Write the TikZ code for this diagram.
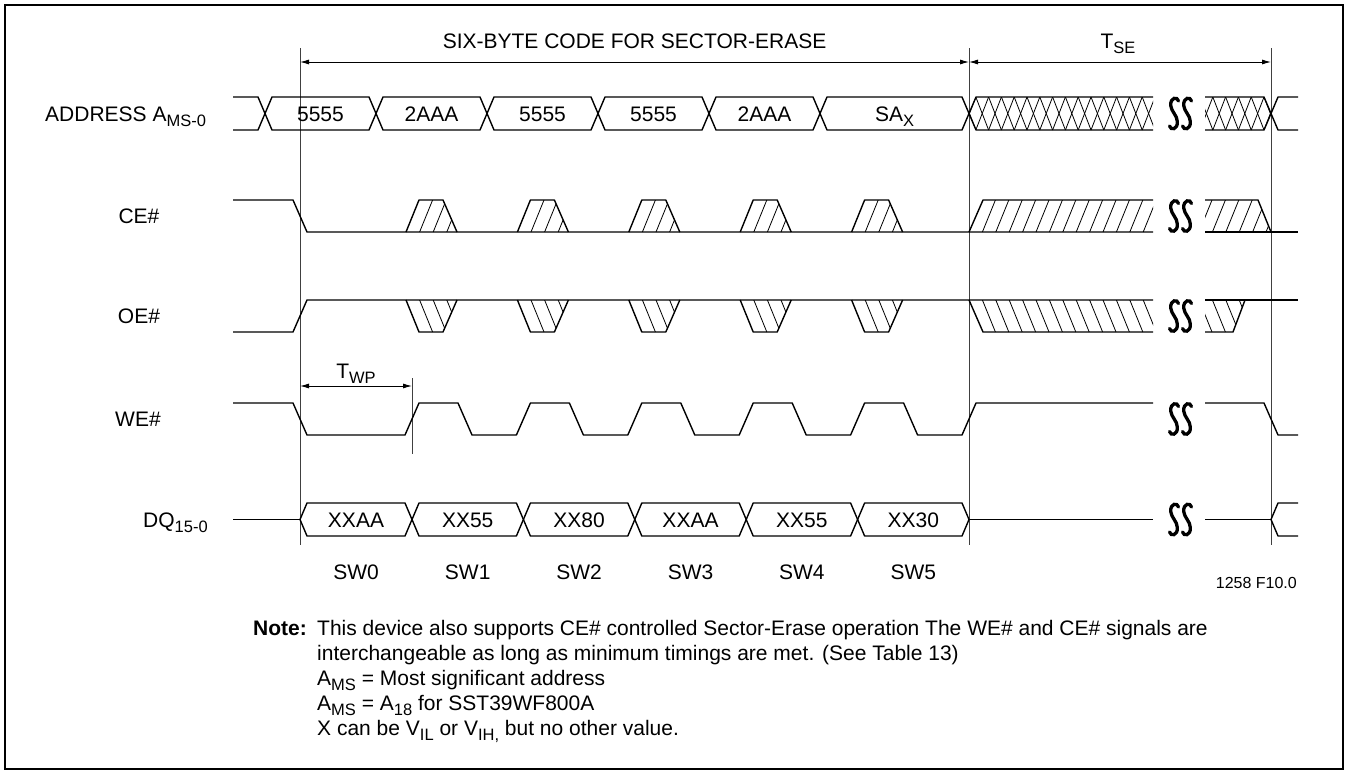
\documentclass[tikz,border=0pt]{standalone}
\usepackage{fontspec}
\setmainfont{Liberation Sans}
\usetikzlibrary{arrows.meta}
\newcommand\sbs[1]{\raisebox{-0.24em}{\fontsize{16.5}{17}\selectfont #1}}
\begin{document}
\begin{tikzpicture}[x=1pt,y=-1pt,
  sig/.style={line width=1.4pt, line join=round},
  hat/.style={line width=0.8pt},
  guide/.style={line width=0.9pt, draw=black!75},
  dimarrow/.style={line width=0.9pt, {Latex[length=9pt,width=5pt]}-{Latex[length=9pt,width=5pt]}},
  lbl/.style={font=\fontsize{21}{25}\selectfont, inner sep=0pt, anchor=base},
  note/.style={font=\fontsize{21}{25}\selectfont, inner sep=0pt, anchor=base west},
  brk/.style={line width=3.3pt, line cap=round}
]
\useasboundingbox (0,0) rectangle (1348,774);
\draw[line width=2.2pt] (5,5) rectangle (1343,769);

% ---------- guides and dimension arrows ----------
\coordinate (g1t) at (300,48);  \coordinate (g1b) at (300,545);
\coordinate (g2t) at (969,48);  \coordinate (g2b) at (969,545);
\coordinate (g3t) at (1271,48); \coordinate (g3b) at (1271,545);
\draw[guide] (g1t) -- (g1b);
\draw[guide] (g2t) -- (g2b);
\draw[guide] (g3t) -- (g3b);
\coordinate (a1) at (300,62); \coordinate (a2) at (969,62); \coordinate (a3) at (1271,62);
\draw[dimarrow] (a1) -- (a2);
\draw[dimarrow] (a2) -- (a3);
\node[lbl] (title) at (634.5,48) {SIX-BYTE CODE FOR SECTOR-ERASE};
\node[lbl] (tse) at (1118,48) {T\sbs{SE}};

\coordinate (w1) at (300,386); \coordinate (w2) at (412,386);
\coordinate (wt) at (412,378); \coordinate (wb) at (412,454);
\draw[guide] (wt) -- (wb);
\draw[dimarrow] (w1) -- (w2);
\node[lbl] (twp) at (356,378) {T\sbs{WP}};

% ---------- row labels ----------
\node[lbl, anchor=base west] (la) at (45,121) {ADDRESS A\sbs{MS-0}};
\node[lbl] (lce) at (139,223.5) {CE\#};
\node[lbl] (loe) at (139,323.5) {OE\#};
\node[lbl] (lwe) at (138,426.5) {WE\#};
\node[lbl, anchor=base west] (ldq) at (143,527) {DQ\sbs{15-0}};

% ---------- ADDRESS ----------
\def\aT{97}\def\aB{130}\def\aC{113.5}
\draw[sig] (233,\aT) -- (258,\aT) -- (265,\aC) -- (258,\aB) -- (233,\aB);
\foreach \xa/\xb/\t [count=\i] in {265/376/5555, 376/487/2AAA, 487/598/5555, 598/709/5555, 709/820/2AAA, 820/969/{SA\sbs{X}}} {
  \draw[sig] (\xa,\aC) -- (\xa+7,\aT) -- (\xb-7,\aT) -- (\xb,\aC) -- (\xb-7,\aB) -- (\xa+7,\aB) -- cycle;
  \node[lbl] (ad\i) at ({(\xa+\xb)/2},121) {\t};
}
\draw[sig] (1153,\aT) -- (976,\aT) -- (969,\aC) -- (976,\aB) -- (1153,\aB);
\begin{scope}
  \clip (969,\aC) -- (976,\aT) -- (1153,\aT) -- (1153,\aB) -- (976,\aB) -- cycle;
  \foreach \k in {0,...,14} {
    \draw[hat] (963+12.8*\k,\aT) -- ++(12.8,33);
    \draw[hat] (963+12.8*\k,\aB) -- ++(12.8,-33);
  }
\end{scope}
\draw[sig] (1205,\aT) -- (1264,\aT) -- (1271,\aC) -- (1264,\aB) -- (1205,\aB);
\draw[sig] (1298,\aT) -- (1278,\aT) -- (1271,\aC) -- (1278,\aB) -- (1298,\aB);
\begin{scope}
  \clip (1205,\aT) -- (1264,\aT) -- (1271,\aC) -- (1264,\aB) -- (1205,\aB) -- cycle;
  \foreach \k in {0,...,5} {
    \draw[hat] (1200+12.8*\k,\aT) -- ++(12.8,33);
    \draw[hat] (1200+12.8*\k,\aB) -- ++(12.8,-33);
  }
\end{scope}

% ---------- CE# ----------
\def\cT{200}\def\cB{232}
\draw[sig] (233,\cT) -- (293,\cT) -- (307,\cB) -- (1153,\cB);
\draw[sig] (1205,\cB) -- (1298,\cB);
\foreach \r in {412,523.4,634.8,746.2,857.6} {
  \draw[sig] (\r-6,\cB) -- (\r+7,\cT) -- (\r+31,\cT) -- (\r+45,\cB);
  \begin{scope}
    \clip (\r-6,\cB) -- (\r+7,\cT) -- (\r+31,\cT) -- (\r+45,\cB) -- cycle;
    \foreach \j in {1,2,3} \draw[hat] (\r-6+13.6*\j,\cB) -- ++(13,-32);
  \end{scope}
}
\draw[sig] (969,\cB) -- (983,\cT) -- (1153,\cT);
\begin{scope}
  \clip (969,\cB) -- (983,\cT) -- (1153,\cT) -- (1153,\cB) -- cycle;
  \foreach \j in {1,...,14} \draw[hat] (969+13.4*\j,\cB) -- ++(13,-32);
\end{scope}
\draw[sig] (1205,\cT) -- (1258,\cT) -- (1271,\cB);
\begin{scope}
  \clip (1205,\cB) -- (1205,\cT) -- (1258,\cT) -- (1271,\cB) -- cycle;
  \foreach \j in {0,...,5} \draw[hat] (1199+13.4*\j,\cB) -- ++(13,-32);
\end{scope}

% ---------- OE# ----------
\def\oT{300}\def\oB{332}
\draw[sig] (233,\oB) -- (293,\oB) -- (307,\oT) -- (1153,\oT);
\draw[sig] (1205,\oT) -- (1298,\oT);
\foreach \r in {412,523.4,634.8,746.2,857.6} {
  \draw[sig] (\r-6,\oT) -- (\r+7,\oB) -- (\r+31,\oB) -- (\r+45,\oT);
  \begin{scope}
    \clip (\r-6,\oT) -- (\r+7,\oB) -- (\r+31,\oB) -- (\r+45,\oT) -- cycle;
    \foreach \j in {1,2,3} \draw[hat] (\r-6+13.6*\j,\oT) -- ++(13,32);
  \end{scope}
}
\draw[sig] (969,\oT) -- (983,\oB) -- (1153,\oB);
\begin{scope}
  \clip (969,\oT) -- (983,\oB) -- (1153,\oB) -- (1153,\oT) -- cycle;
  \foreach \j in {1,...,14} \draw[hat] (969+13.4*\j,\oT) -- ++(13,32);
\end{scope}
\draw[sig] (1205,\oB) -- (1233,\oB) -- (1245,\oT);
\begin{scope}
  \clip (1205,\oT) -- (1205,\oB) -- (1233,\oB) -- (1245,\oT) -- cycle;
  \foreach \j in {0,...,3} \draw[hat] (1199+13.4*\j,\oT) -- ++(13,32);
\end{scope}

% ---------- WE# ----------
\def\wT{403}\def\wB{435}
\draw[sig] (233,\wT) -- (293,\wT) -- (307,\wB)
  \foreach \r in {412,523.4,634.8,746.2,857.6} { -- (\r-7,\wB) -- (\r+7,\wT) -- (\r+46,\wT) -- (\r+60,\wB) }
  -- (962,\wB) -- (976,\wT) -- (1153,\wT);
\draw[sig] (1205,\wT) -- (1264,\wT) -- (1278,\wB) -- (1298,\wB);

% ---------- DQ ----------
\def\dT{503}\def\dB{536}\def\dC{519.5}
\draw[sig] (233,\dC) -- (300,\dC);
\foreach \xa/\xb/\t [count=\i] in {300/412/XXAA, 412/523.4/XX55, 523.4/634.8/XX80, 634.8/746.2/XXAA, 746.2/857.6/XX55, 857.6/969/XX30} {
  \draw[sig] (\xa,\dC) -- (\xa+7,\dT) -- (\xb-7,\dT) -- (\xb,\dC) -- (\xb-7,\dB) -- (\xa+7,\dB) -- cycle;
  \node[lbl] (dq\i) at ({(\xa+\xb)/2},527) {\t};
  \node[lbl] (sw\i) at ({(\xa+\xb)/2},579.5) {SW\the\numexpr\i-1\relax};
}
\draw[sig] (969,\dC) -- (1153,\dC);
\draw[sig] (1205,\dC) -- (1271,\dC);
\draw[sig] (1298,\dT) -- (1278,\dT) -- (1271,\dC) -- (1278,\dB) -- (1298,\dB);

% ---------- break symbols ----------
\foreach \yc in {113.5,216,316,419,519.5} {
  \foreach \cx in {1174,1187} {
    \draw[brk] (\cx+4.5,\yc-12.5) .. controls (\cx+3.5,\yc-17) and (\cx-3.8,\yc-16.5) .. (\cx-3.3,\yc-8)
      .. controls (\cx-2.8,\yc-2) and (\cx+3.3,\yc+2) .. (\cx+3.3,\yc+8)
      .. controls (\cx+3.8,\yc+16.5) and (\cx-3.5,\yc+17) .. (\cx-4.5,\yc+12.5);
  }
}

% ---------- figure id and notes ----------
\node[font=\fontsize{16}{18}\selectfont, inner sep=0pt, anchor=base east] (fig) at (1297,588) {1258 F10.0};
\node[note, font=\bfseries\fontsize{21}{25}\selectfont] (nt) at (253,635.5) {Note:};
\node[note] (n1) at (317,635.5) {This device also supports CE\# controlled Sector-Erase operation The WE\# and CE\# signals are};
\node[note] (n2) at (317,660.5) {interchangeable as long as minimum timings are met. (See Table 13)};
\node[note] (n3) at (317,685.5) {A\sbs{MS} = Most significant address};
\node[note] (n4) at (317,710.5) {A\sbs{MS} = A\sbs{18} for SST39WF800A};
\node[note] (n5) at (317,735.5) {X can be V\sbs{IL} or V\sbs{IH,} but no other value.};
\end{tikzpicture}
\end{document}
